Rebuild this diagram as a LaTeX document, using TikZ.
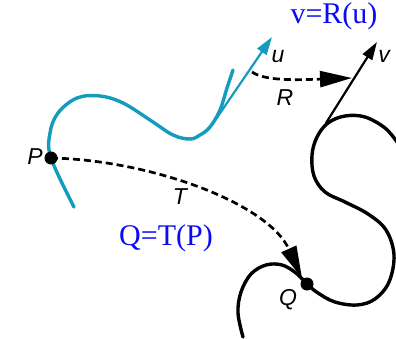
\documentclass[tikz,border=0pt]{standalone}
\usepackage{fontspec}
\setmainfont{Liberation Serif}
\newfontfamily\labfont{Liberation Sans}
\usetikzlibrary{arrows.meta}
\definecolor{curvecyan}{RGB}{20,155,190}
\definecolor{textblue}{RGB}{10,10,245}
\tikzset{
  x=1pt, y=-1pt,
  curveline/.style={line width=3.4pt, line cap=round, line join=round},
  maparrow/.style={line width=2.7pt, dash pattern=on 7pt off 4pt, -{Triangle[length=32pt,width=16pt]}},
  vecarrow/.style={line width=2.2pt, -{Triangle[length=18pt,width=11pt]}},
  lab/.style={font=\labfont\itshape\fontsize{23}{23}\selectfont, inner sep=0pt},
  formula/.style={font=\fontsize{30}{30}\selectfont, text=textblue, inner sep=0pt},
  dotmark/.style={circle, fill=black, inner sep=0pt, minimum size=13pt}
}
\begin{document}
\begin{tikzpicture}
\useasboundingbox (0,0) rectangle (396,339);
% cyan curve
\draw[curveline, curvecyan] plot[smooth, tension=0.6] coordinates {(74,207) (51,158) (50,133) (58,113) (77,98) (100,96) (123,103) (150,120) (173,135) (190,139) (200,135) (210,127) (220,110) (227,88) (233,70)};
% black curve
\draw[curveline, black] plot[smooth, tension=0.6] coordinates {(397,142) (385,128) (365,117) (345,116) (328,123) (317,137) (312,155) (314,176) (325,192) (345,202) (368,214) (386,230) (394,255) (389,282) (375,299) (357,305) (335,302) (318,293) (307,284) (296,273) (282,265) (266,265) (251,274) (241,292) (238,313) (243,337)};
% points
\node[dotmark] (P) at (51,158) {};
\node[dotmark] (Q) at (307,284) {};
\coordinate (ubase) at (212,125);
\coordinate (utip) at (272,37);
\coordinate (vbase) at (326,123);
\coordinate (vtip) at (377,42);
\coordinate (Rstart) at (252,72);
\coordinate (Rend) at (352,78);
\coordinate (Tend) at (302,278);
% vectors
\draw[vecarrow, curvecyan] (ubase) -- (utip);
\draw[vecarrow, black] (vbase) -- (vtip);
% maps
\draw[maparrow] (Rstart) .. controls (265,81) and (295,80) .. (Rend);
\draw[maparrow] (P.center) .. controls (150,160) and (268,203) .. (Tend);
% labels
\node[lab] (Plab) at (35,157) {P};
\node[lab] (Qlab) at (288,300) {Q};
\node[lab] (Tlab) at (180,197) {T};
\node[lab] (Rlab) at (285,98) {R};
\node[lab] (ulab) at (278,57) {u};
\node[lab] (vlab) at (384,56) {v};
\node[formula] (f1) at (334,16) {v=R(u)};
\node[formula] (f2) at (166,238) {Q=T(P)};
\end{tikzpicture}
\end{document}
